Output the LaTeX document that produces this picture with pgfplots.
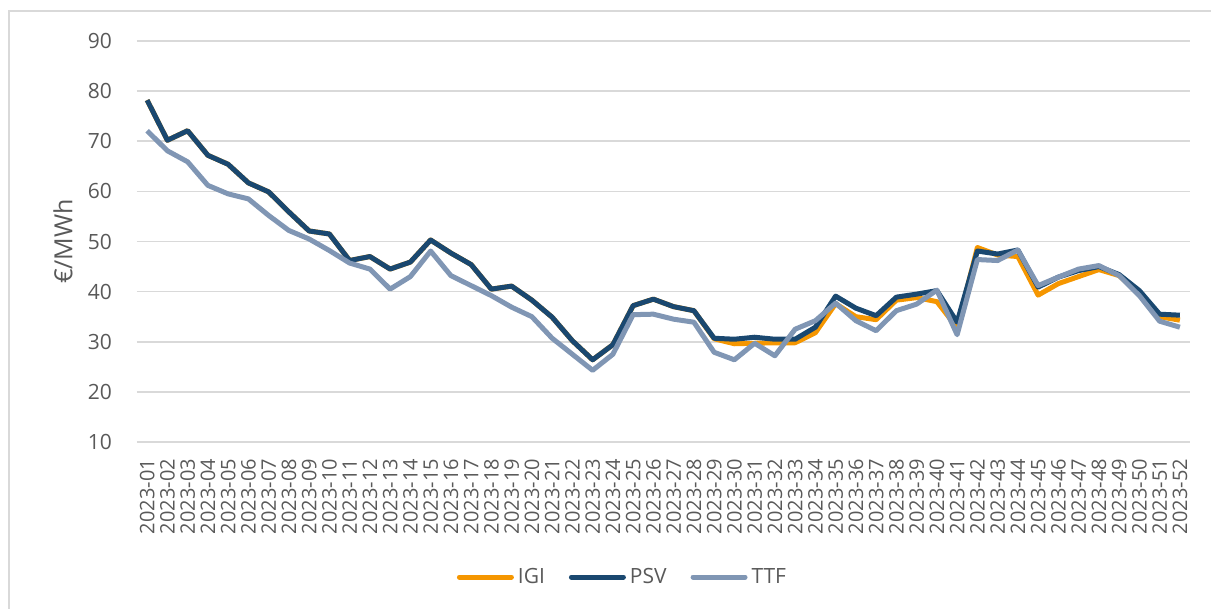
\documentclass[border=0pt]{standalone}
\usepackage{fontspec}
\setmainfont{Open Sans}
\usepackage{pgfplots}
\usepackage{pgfplotstable}
\pgfplotsset{compat=1.18}
\definecolor{igi}{RGB}{245,150,0}
\definecolor{psv}{RGB}{26,72,112}
\definecolor{ttf}{RGB}{128,150,180}
\definecolor{gridc}{RGB}{217,217,217}
\definecolor{txt}{RGB}{89,89,89}
\pgfplotstableread{
w IGI PSV TTF
1 78.2 78.2 72.1
2 70.2 70.2 68.1
3 72.1 72.1 65.9
4 67.2 67.2 61.2
5 65.4 65.4 59.5
6 61.7 61.7 58.5
7 59.9 59.9 55.2
8 55.9 55.9 52.2
9 52.1 52.1 50.5
10 51.5 51.5 48.2
11 46.2 46.2 45.7
12 47.0 47.0 44.5
13 44.5 44.5 40.5
14 45.9 45.9 43.0
15 50.3 50.3 48.1
16 47.7 47.7 43.2
17 45.4 45.4 41.2
18 40.5 40.5 39.2
19 41.1 41.1 36.9
20 38.3 38.3 35.0
21 34.9 34.9 30.7
22 30.2 30.2 27.5
23 26.4 26.4 24.3
24 29.4 29.4 27.5
25 37.2 37.2 35.4
26 38.5 38.5 35.5
27 37.0 37.0 34.5
28 36.2 36.2 33.9
29 30.6 30.7 27.9
30 29.6 30.5 26.4
31 29.7 30.9 29.7
32 29.8 30.5 27.2
33 29.8 30.5 32.5
34 31.8 32.9 34.2
35 37.6 39.1 37.7
36 35.0 36.7 34.2
37 34.4 35.2 32.2
38 38.3 38.9 36.2
39 38.8 39.5 37.5
40 38.0 40.2 40.3
41 32.8 33.9 31.4
42 48.8 48.1 46.4
43 47.3 47.5 46.2
44 47.0 48.3 48.3
45 39.3 40.9 41.2
46 41.6 42.9 42.9
47 43.0 44.2 44.5
48 44.4 45.0 45.2
49 43.2 43.4 43.2
50 39.6 40.2 39.2
51 35.0 35.5 34.1
52 34.3 35.3 32.9
}\data
\begin{document}
\begin{tikzpicture}[x=1pt,y=1pt]
\useasboundingbox (0,0) rectangle (605.5,304.5);
\draw[gridc, line width=0.8pt] (4.5,-2) -- (4.5,299) -- (610,299);
\begin{axis}[
  at={(68.5pt,83.5pt)}, anchor=south west,
  scale only axis, width=526.5pt, height=200.5pt,
  xmin=0.5, xmax=52.5, ymin=10, ymax=90,
  ytick={10,20,...,90},
  xtick={1,...,52},
  xticklabels={2023-01,2023-02,2023-03,2023-04,2023-05,2023-06,2023-07,2023-08,2023-09,2023-10,2023-11,2023-12,2023-13,2023-14,2023-15,2023-16,2023-17,2023-18,2023-19,2023-20,2023-21,2023-22,2023-23,2023-24,2023-25,2023-26,2023-27,2023-28,2023-29,2023-30,2023-31,2023-32,2023-33,2023-34,2023-35,2023-36,2023-37,2023-38,2023-39,2023-40,2023-41,2023-42,2023-43,2023-44,2023-45,2023-46,2023-47,2023-48,2023-49,2023-50,2023-51,2023-52},
  xticklabel style={rotate=90, anchor=east, font=\fontsize{10}{12}\selectfont, text=txt, xshift=-5pt},
  yticklabel style={font=\fontsize{10.5}{12}\selectfont, text=txt, xshift=-9pt},
  /pgf/number format/assume math mode=true,
  major tick length=0pt,
  axis line style={draw=none},
  ymajorgrids, grid style={gridc, line width=0.8pt},
  ylabel={€/MWh},
  ylabel style={at={(axis description cs:-0.0703,0.5)}, anchor=center, font=\fontsize{12.5}{14}\selectfont, text=txt},
  legend style={at={(axis description cs:0.462,-0.3367)}, anchor=center, draw=none, fill=none,
    legend columns=3, font=\fontsize{10.5}{12}\selectfont, text=txt,
    /tikz/every even column/.append style={column sep=10pt}},
  legend image code/.code={\draw[#1, line cap=round, line width=2.5pt] (0pt,0pt) -- (26pt,0pt);},
  every axis plot/.append style={line width=2.5pt, line join=round, mark=none},
]
\addplot[igi] table[x=w,y=IGI]{\data};
\addplot[psv] table[x=w,y=PSV]{\data};
\addplot[ttf] table[x=w,y=TTF]{\data};
\legend{IGI,PSV,TTF}
\end{axis}
\end{tikzpicture}
\end{document}
